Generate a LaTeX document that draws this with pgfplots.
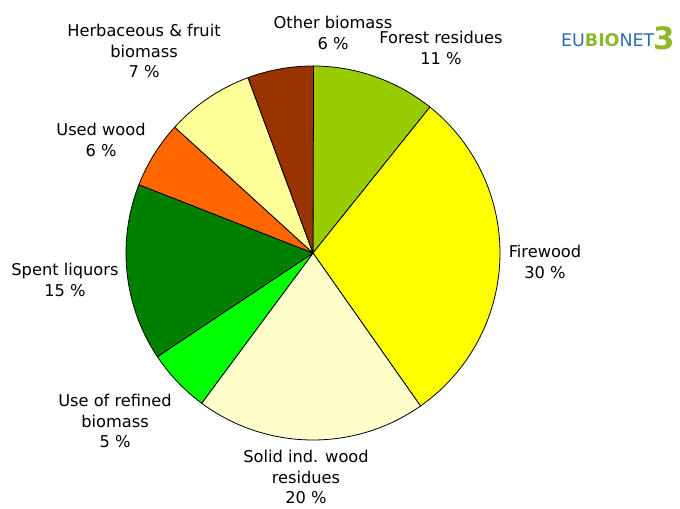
\documentclass[border=0pt]{standalone}
\usepackage{pgfplots}
\pgfplotsset{compat=1.18}
\usepackage{pgfplotstable}
\usepackage{fontspec}
\setmainfont{DejaVu Sans}
\definecolor{pie0}{HTML}{99CC00}
\definecolor{pie1}{HTML}{FFFF00}
\definecolor{pie2}{HTML}{FFFFCC}
\definecolor{pie3}{HTML}{00FF00}
\definecolor{pie4}{HTML}{008000}
\definecolor{pie5}{HTML}{FF6600}
\definecolor{pie6}{HTML}{FFFF99}
\definecolor{pie7}{HTML}{993300}
\definecolor{logoblue}{HTML}{2D6BB0}
\definecolor{logogreen}{HTML}{8CB82B}
\pgfplotstableread{
v
10.75
29.5
19.9
5.5
15.3
5.8
7.6
5.7
}\piedata
\begin{document}
\begin{tikzpicture}[lbl/.style={font=\fontsize{16.3}{21}\selectfont, align=center, text=black, inner sep=0pt}]
\begin{axis}[scale only axis, width=680bp, height=509bp,
  xmin=0, xmax=680, ymin=0, ymax=509, y dir=reverse,
  hide axis, clip=false]
\def\startang{90}
\pgfplotsforeachungrouped \i in {0,...,7}{%
  \pgfplotstablegetelem{\i}{v}\of\piedata
  \pgfmathsetmacro\endang{\startang - 3.6*\pgfplotsretval}%
  \edef\tmp{\noexpand\addplot[draw=black, fill=pie\i, line width=0.8pt, line join=round, domain=\endang:\startang, samples=80] ({313+187*cos(x)},{253-187*sin(x)}) -- (axis cs:313,253) -- cycle;}%
  \tmp
  \global\let\startang\endang
}
\node[lbl] at (axis cs:333,33) {Other biomass\\6 \%};
\node[lbl] at (axis cs:441,48) {Forest residues\\11 \%};
\node[lbl] at (axis cs:144,51) {Herbaceous \& fruit\\biomass\\7 \%};
\node[lbl] at (axis cs:101,140) {Used wood\\6 \%};
\node[lbl] at (axis cs:65,280) {Spent liquors\\15 \%};
\node[lbl] at (axis cs:115,421) {Use of refined\\biomass\\5 \%};
\node[lbl] at (axis cs:306,477) {Solid ind. wood\\residues\\20 \%};
\node[lbl] at (axis cs:545,262) {Firewood\\30 \%};
\node[anchor=base west, font=\fontsize{17.5}{18}\selectfont, inner sep=0pt] at (axis cs:561,47)
  {\textcolor{logoblue}{EU}\textcolor{logogreen}{\bfseries BIO}\textcolor{logoblue}{NET}\kern-1pt\raisebox{-3bp}{\textcolor{logogreen}{\bfseries\fontsize{31}{31}\selectfont 3}}};
\end{axis}
\pgfresetboundingbox
\path (0,0) rectangle (680bp,509bp);
\end{tikzpicture}
\end{document}
